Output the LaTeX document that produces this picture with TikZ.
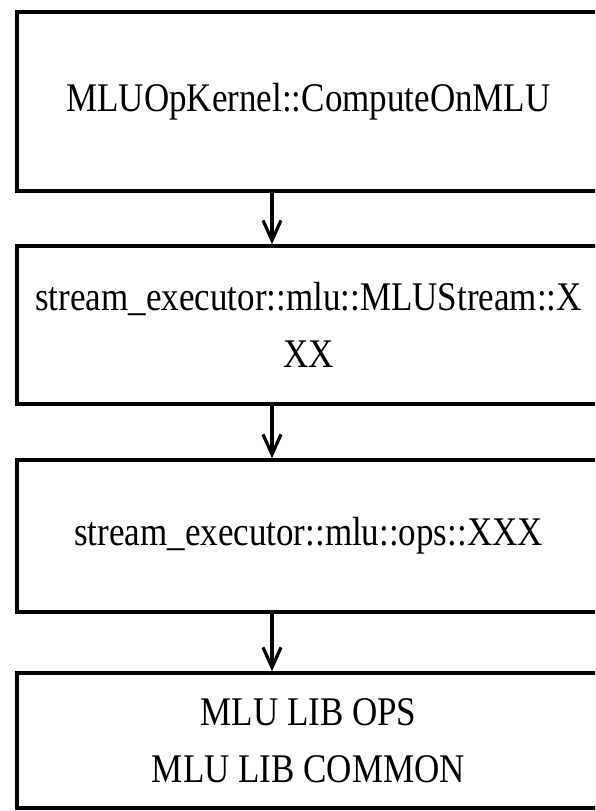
\documentclass[tikz,border=0pt]{standalone}
\usepackage{fontspec}
\setmainfont[FakeStretch=0.86]{Liberation Serif}
\usetikzlibrary{arrows.meta}
\begin{document}
\begin{tikzpicture}[x=1pt,y=-1pt,
  box/.style={draw=black, line width=3.5pt, rectangle, inner sep=0pt,
    minimum width=583pt, align=center,
    font=\fontsize{40.7}{57}\selectfont},
  flow/.style={draw=black, line width=3.2pt,
    -{Straight Barb[length=20pt,width=18pt,line width=3.2pt]}}]
  \useasboundingbox (0,0) rectangle (595,811);
  \clip (0,0) rectangle (595,811);
  % stacked call layers, widest first
  \node[box, minimum height=179pt] (b1) at (308.5,101.5) {MLUOpKernel::ComputeOnMLU};
  \node[box, minimum height=158pt] (b2) at (308.5,325) {stream\_executor::mlu::MLUStream::X\\XX};
  \node[box, minimum height=152pt] (b3) at (308.5,536) {stream\_executor::mlu::ops::XXX};
  \node[box, minimum height=135pt] (b4) at (308.5,740.5) {MLU LIB OPS\\MLU LIB COMMON};
  % downward calls between layers
  \coordinate (ax) at (272,0);
  \draw[flow] (b1.south -| ax) -- (b2.north -| ax);
  \draw[flow] (b2.south -| ax) -- (b3.north -| ax);
  \draw[flow] (b3.south -| ax) -- (b4.north -| ax);
\end{tikzpicture}
\end{document}
